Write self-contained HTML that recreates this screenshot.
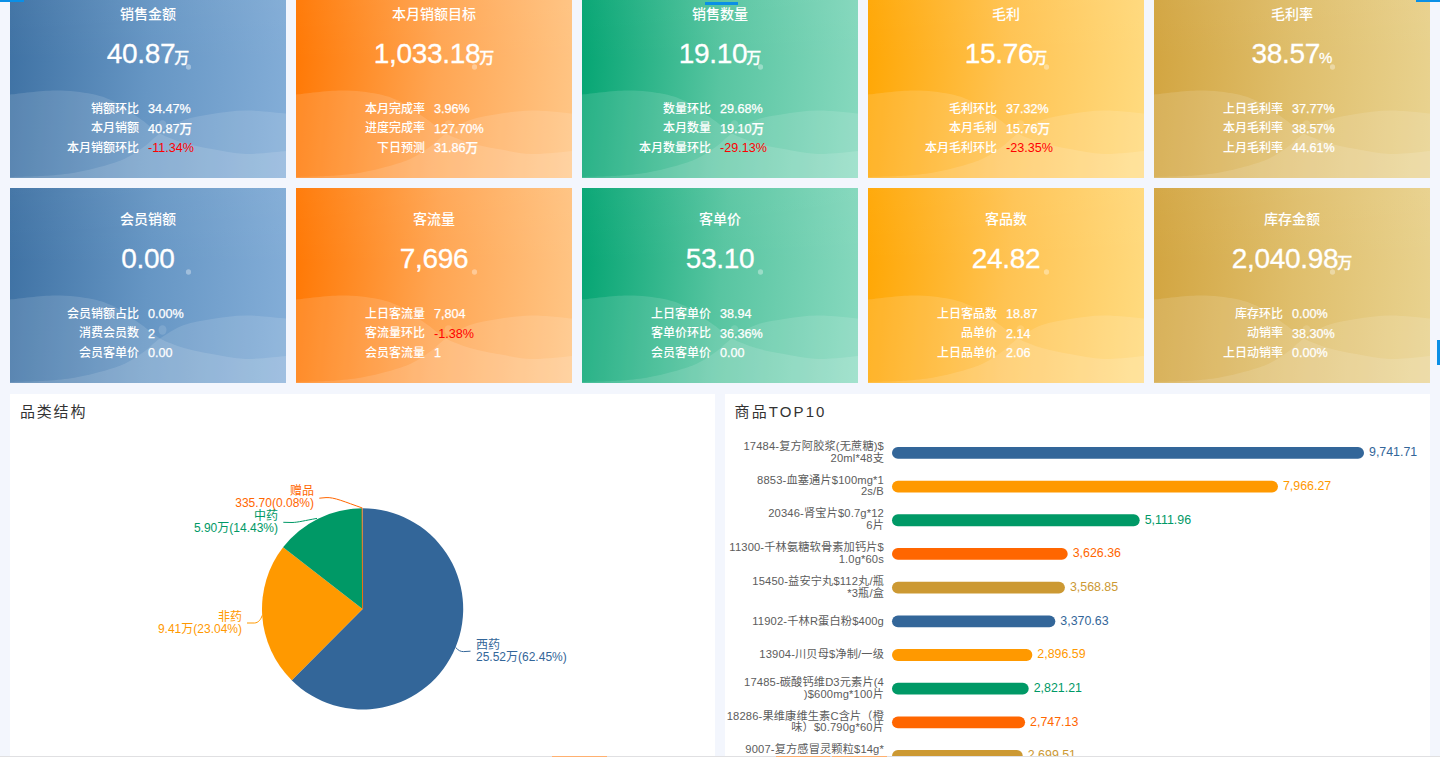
<!DOCTYPE html><html><head><meta charset="utf-8"><title>dashboard</title><style>

*{margin:0;padding:0;box-sizing:border-box}
html,body{width:1440px;height:757px;overflow:hidden;background:#f3f6fd;font-family:"Liberation Sans","Noto Sans CJK SC",sans-serif}
.card{position:absolute;width:276px;height:195px;overflow:hidden;color:#fff}
.g0{background:linear-gradient(180deg,rgba(255,255,255,.045) 0%,rgba(255,255,255,0) 40%),linear-gradient(95deg,#3e71a3 0%,#6696c4 50%,#84aed8 100%)}
.g1{background:linear-gradient(180deg,rgba(255,255,255,.045) 0%,rgba(255,255,255,0) 40%),linear-gradient(95deg,#ff7702 0%,#ffa552 50%,#ffc686 100%)}
.g2{background:linear-gradient(180deg,rgba(255,255,255,.045) 0%,rgba(255,255,255,0) 40%),linear-gradient(95deg,#02a471 0%,#58c5a1 50%,#88d9bf 100%)}
.g3{background:linear-gradient(180deg,rgba(255,255,255,.045) 0%,rgba(255,255,255,0) 40%),linear-gradient(95deg,#ffa602 0%,#ffc352 50%,#ffdb80 100%)}
.g4{background:linear-gradient(180deg,rgba(255,255,255,.045) 0%,rgba(255,255,255,0) 40%),linear-gradient(95deg,#d2a43f 0%,#dfbe6b 50%,#e9d390 100%)}
.wave{position:absolute;left:0;top:0}
.t{position:absolute;left:0;right:0;top:21px;text-align:center;font-size:14px;line-height:20px;font-weight:500}
.n{position:absolute;left:0;right:0;top:53px;text-align:center;font-size:28px;line-height:36px;white-space:nowrap;letter-spacing:-0.3px;-webkit-text-stroke:0.3px #fff}
.u{font-size:15px;margin-left:-1px;font-weight:500;letter-spacing:0}
.rs{position:absolute;left:0;right:0;top:115.6px}
.r{height:19.7px;line-height:20px;font-size:12px;white-space:nowrap;font-weight:500}
.l{display:inline-block;width:129px;text-align:right}
.v{display:inline-block;margin-left:9px;font-size:12.6px;-webkit-text-stroke:0.25px currentColor;vertical-align:top;position:relative;top:0.5px}
.neg{color:#ff0000;-webkit-text-stroke:0}
.panel{position:absolute;top:394px;width:705px;height:400px;background:#fff;overflow:hidden}
.pt{position:absolute;left:10px;top:8px;font-size:15px;letter-spacing:1.8px;color:#333;line-height:20px;white-space:nowrap}
.panel svg{position:absolute;left:0;top:0}

</style></head><body>
<div class="card g0" style="left:10px;top:-17px"><svg class="wave" width="276" height="195" viewBox="0 0 276 195"><path d="M0,111.5 C7.5,110.8 31.3,107.6 45,107.5 C58.7,107.4 72.0,109.1 82,111 C92.0,112.9 98.7,116.0 105,119 C111.3,122.0 115.2,125.8 120,129 C124.8,132.2 129.0,134.9 134,138.5 C139.0,142.1 143.3,146.9 150,150.5 C156.7,154.1 165.3,157.4 174,160 C182.7,162.6 191.7,164.2 202,166 C212.3,167.8 223.7,170.7 236,171 C248.3,171.3 269.3,168.5 276,168 L276,195 L0,195 Z" fill="#fff" fill-opacity="0.13"/><path d="M0,194 C6.7,193.8 28.7,193.3 40,192.5 C51.3,191.7 58.5,190.8 68,189 C77.5,187.2 88.8,184.4 97,182 C105.2,179.6 110.7,177.7 117,174.5 C123.3,171.3 129.5,167.0 135,163 C140.5,159.0 143.5,154.8 150,150.5 C156.5,146.2 165.3,140.2 174,137 C182.7,133.8 191.7,132.6 202,131 C212.3,129.4 223.7,127.6 236,127.5 C248.3,127.4 269.3,130.0 276,130.5 L276,195 L0,195 Z" fill="#fff" fill-opacity="0.12"/><ellipse cx="178.5" cy="84" rx="2.6" ry="2.8" fill="#fff" fill-opacity="0.35"/><ellipse cx="152.5" cy="142" rx="4" ry="4.8" fill="#fff" fill-opacity="0.13"/></svg>
<div class="t">销售金额</div>
<div class="n"><span class="nv">40.87</span><span class="u">万</span></div>
<div class="rs"><div class="r"><span class="l">销额环比</span><span class="v">34.47%</span></div><div class="r"><span class="l">本月销额</span><span class="v">40.87万</span></div><div class="r"><span class="l">本月销额环比</span><span class="v neg">-11.34%</span></div></div>
</div>
<div class="card g1" style="left:296px;top:-17px"><svg class="wave" width="276" height="195" viewBox="0 0 276 195"><path d="M0,111.5 C7.5,110.8 31.3,107.6 45,107.5 C58.7,107.4 72.0,109.1 82,111 C92.0,112.9 98.7,116.0 105,119 C111.3,122.0 115.2,125.8 120,129 C124.8,132.2 129.0,134.9 134,138.5 C139.0,142.1 143.3,146.9 150,150.5 C156.7,154.1 165.3,157.4 174,160 C182.7,162.6 191.7,164.2 202,166 C212.3,167.8 223.7,170.7 236,171 C248.3,171.3 269.3,168.5 276,168 L276,195 L0,195 Z" fill="#fff" fill-opacity="0.13"/><path d="M0,194 C6.7,193.8 28.7,193.3 40,192.5 C51.3,191.7 58.5,190.8 68,189 C77.5,187.2 88.8,184.4 97,182 C105.2,179.6 110.7,177.7 117,174.5 C123.3,171.3 129.5,167.0 135,163 C140.5,159.0 143.5,154.8 150,150.5 C156.5,146.2 165.3,140.2 174,137 C182.7,133.8 191.7,132.6 202,131 C212.3,129.4 223.7,127.6 236,127.5 C248.3,127.4 269.3,130.0 276,130.5 L276,195 L0,195 Z" fill="#fff" fill-opacity="0.12"/><ellipse cx="178.5" cy="84" rx="2.6" ry="2.8" fill="#fff" fill-opacity="0.35"/><ellipse cx="152.5" cy="142" rx="4" ry="4.8" fill="#fff" fill-opacity="0.13"/></svg>
<div class="t">本月销额目标</div>
<div class="n"><span class="nv">1,033.18</span><span class="u">万</span></div>
<div class="rs"><div class="r"><span class="l">本月完成率</span><span class="v">3.96%</span></div><div class="r"><span class="l">进度完成率</span><span class="v">127.70%</span></div><div class="r"><span class="l">下日预测</span><span class="v">31.86万</span></div></div>
</div>
<div class="card g2" style="left:582px;top:-17px"><svg class="wave" width="276" height="195" viewBox="0 0 276 195"><path d="M0,111.5 C7.5,110.8 31.3,107.6 45,107.5 C58.7,107.4 72.0,109.1 82,111 C92.0,112.9 98.7,116.0 105,119 C111.3,122.0 115.2,125.8 120,129 C124.8,132.2 129.0,134.9 134,138.5 C139.0,142.1 143.3,146.9 150,150.5 C156.7,154.1 165.3,157.4 174,160 C182.7,162.6 191.7,164.2 202,166 C212.3,167.8 223.7,170.7 236,171 C248.3,171.3 269.3,168.5 276,168 L276,195 L0,195 Z" fill="#fff" fill-opacity="0.13"/><path d="M0,194 C6.7,193.8 28.7,193.3 40,192.5 C51.3,191.7 58.5,190.8 68,189 C77.5,187.2 88.8,184.4 97,182 C105.2,179.6 110.7,177.7 117,174.5 C123.3,171.3 129.5,167.0 135,163 C140.5,159.0 143.5,154.8 150,150.5 C156.5,146.2 165.3,140.2 174,137 C182.7,133.8 191.7,132.6 202,131 C212.3,129.4 223.7,127.6 236,127.5 C248.3,127.4 269.3,130.0 276,130.5 L276,195 L0,195 Z" fill="#fff" fill-opacity="0.12"/><ellipse cx="178.5" cy="84" rx="2.6" ry="2.8" fill="#fff" fill-opacity="0.35"/><ellipse cx="152.5" cy="142" rx="4" ry="4.8" fill="#fff" fill-opacity="0.13"/></svg>
<div class="t">销售数量</div>
<div class="n"><span class="nv">19.10</span><span class="u">万</span></div>
<div class="rs"><div class="r"><span class="l">数量环比</span><span class="v">29.68%</span></div><div class="r"><span class="l">本月数量</span><span class="v">19.10万</span></div><div class="r"><span class="l">本月数量环比</span><span class="v neg">-29.13%</span></div></div>
</div>
<div class="card g3" style="left:868px;top:-17px"><svg class="wave" width="276" height="195" viewBox="0 0 276 195"><path d="M0,111.5 C7.5,110.8 31.3,107.6 45,107.5 C58.7,107.4 72.0,109.1 82,111 C92.0,112.9 98.7,116.0 105,119 C111.3,122.0 115.2,125.8 120,129 C124.8,132.2 129.0,134.9 134,138.5 C139.0,142.1 143.3,146.9 150,150.5 C156.7,154.1 165.3,157.4 174,160 C182.7,162.6 191.7,164.2 202,166 C212.3,167.8 223.7,170.7 236,171 C248.3,171.3 269.3,168.5 276,168 L276,195 L0,195 Z" fill="#fff" fill-opacity="0.13"/><path d="M0,194 C6.7,193.8 28.7,193.3 40,192.5 C51.3,191.7 58.5,190.8 68,189 C77.5,187.2 88.8,184.4 97,182 C105.2,179.6 110.7,177.7 117,174.5 C123.3,171.3 129.5,167.0 135,163 C140.5,159.0 143.5,154.8 150,150.5 C156.5,146.2 165.3,140.2 174,137 C182.7,133.8 191.7,132.6 202,131 C212.3,129.4 223.7,127.6 236,127.5 C248.3,127.4 269.3,130.0 276,130.5 L276,195 L0,195 Z" fill="#fff" fill-opacity="0.12"/><ellipse cx="178.5" cy="84" rx="2.6" ry="2.8" fill="#fff" fill-opacity="0.35"/><ellipse cx="152.5" cy="142" rx="4" ry="4.8" fill="#fff" fill-opacity="0.13"/></svg>
<div class="t">毛利</div>
<div class="n"><span class="nv">15.76</span><span class="u">万</span></div>
<div class="rs"><div class="r"><span class="l">毛利环比</span><span class="v">37.32%</span></div><div class="r"><span class="l">本月毛利</span><span class="v">15.76万</span></div><div class="r"><span class="l">本月毛利环比</span><span class="v neg">-23.35%</span></div></div>
</div>
<div class="card g4" style="left:1154px;top:-17px"><svg class="wave" width="276" height="195" viewBox="0 0 276 195"><path d="M0,111.5 C7.5,110.8 31.3,107.6 45,107.5 C58.7,107.4 72.0,109.1 82,111 C92.0,112.9 98.7,116.0 105,119 C111.3,122.0 115.2,125.8 120,129 C124.8,132.2 129.0,134.9 134,138.5 C139.0,142.1 143.3,146.9 150,150.5 C156.7,154.1 165.3,157.4 174,160 C182.7,162.6 191.7,164.2 202,166 C212.3,167.8 223.7,170.7 236,171 C248.3,171.3 269.3,168.5 276,168 L276,195 L0,195 Z" fill="#fff" fill-opacity="0.13"/><path d="M0,194 C6.7,193.8 28.7,193.3 40,192.5 C51.3,191.7 58.5,190.8 68,189 C77.5,187.2 88.8,184.4 97,182 C105.2,179.6 110.7,177.7 117,174.5 C123.3,171.3 129.5,167.0 135,163 C140.5,159.0 143.5,154.8 150,150.5 C156.5,146.2 165.3,140.2 174,137 C182.7,133.8 191.7,132.6 202,131 C212.3,129.4 223.7,127.6 236,127.5 C248.3,127.4 269.3,130.0 276,130.5 L276,195 L0,195 Z" fill="#fff" fill-opacity="0.12"/><ellipse cx="178.5" cy="84" rx="2.6" ry="2.8" fill="#fff" fill-opacity="0.35"/><ellipse cx="152.5" cy="142" rx="4" ry="4.8" fill="#fff" fill-opacity="0.13"/></svg>
<div class="t">毛利率</div>
<div class="n"><span class="nv">38.57</span><span class="u">%</span></div>
<div class="rs"><div class="r"><span class="l">上日毛利率</span><span class="v">37.77%</span></div><div class="r"><span class="l">本月毛利率</span><span class="v">38.57%</span></div><div class="r"><span class="l">上月毛利率</span><span class="v">44.61%</span></div></div>
</div>
<div class="card g0" style="left:10px;top:188px"><svg class="wave" width="276" height="195" viewBox="0 0 276 195"><path d="M0,111.5 C7.5,110.8 31.3,107.6 45,107.5 C58.7,107.4 72.0,109.1 82,111 C92.0,112.9 98.7,116.0 105,119 C111.3,122.0 115.2,125.8 120,129 C124.8,132.2 129.0,134.9 134,138.5 C139.0,142.1 143.3,146.9 150,150.5 C156.7,154.1 165.3,157.4 174,160 C182.7,162.6 191.7,164.2 202,166 C212.3,167.8 223.7,170.7 236,171 C248.3,171.3 269.3,168.5 276,168 L276,195 L0,195 Z" fill="#fff" fill-opacity="0.13"/><path d="M0,194 C6.7,193.8 28.7,193.3 40,192.5 C51.3,191.7 58.5,190.8 68,189 C77.5,187.2 88.8,184.4 97,182 C105.2,179.6 110.7,177.7 117,174.5 C123.3,171.3 129.5,167.0 135,163 C140.5,159.0 143.5,154.8 150,150.5 C156.5,146.2 165.3,140.2 174,137 C182.7,133.8 191.7,132.6 202,131 C212.3,129.4 223.7,127.6 236,127.5 C248.3,127.4 269.3,130.0 276,130.5 L276,195 L0,195 Z" fill="#fff" fill-opacity="0.12"/><ellipse cx="178.5" cy="84" rx="2.6" ry="2.8" fill="#fff" fill-opacity="0.35"/><ellipse cx="152.5" cy="142" rx="4" ry="4.8" fill="#fff" fill-opacity="0.13"/></svg>
<div class="t">会员销额</div>
<div class="n"><span class="nv">0.00</span></div>
<div class="rs"><div class="r"><span class="l">会员销额占比</span><span class="v">0.00%</span></div><div class="r"><span class="l">消费会员数</span><span class="v">2</span></div><div class="r"><span class="l">会员客单价</span><span class="v">0.00</span></div></div>
</div>
<div class="card g1" style="left:296px;top:188px"><svg class="wave" width="276" height="195" viewBox="0 0 276 195"><path d="M0,111.5 C7.5,110.8 31.3,107.6 45,107.5 C58.7,107.4 72.0,109.1 82,111 C92.0,112.9 98.7,116.0 105,119 C111.3,122.0 115.2,125.8 120,129 C124.8,132.2 129.0,134.9 134,138.5 C139.0,142.1 143.3,146.9 150,150.5 C156.7,154.1 165.3,157.4 174,160 C182.7,162.6 191.7,164.2 202,166 C212.3,167.8 223.7,170.7 236,171 C248.3,171.3 269.3,168.5 276,168 L276,195 L0,195 Z" fill="#fff" fill-opacity="0.13"/><path d="M0,194 C6.7,193.8 28.7,193.3 40,192.5 C51.3,191.7 58.5,190.8 68,189 C77.5,187.2 88.8,184.4 97,182 C105.2,179.6 110.7,177.7 117,174.5 C123.3,171.3 129.5,167.0 135,163 C140.5,159.0 143.5,154.8 150,150.5 C156.5,146.2 165.3,140.2 174,137 C182.7,133.8 191.7,132.6 202,131 C212.3,129.4 223.7,127.6 236,127.5 C248.3,127.4 269.3,130.0 276,130.5 L276,195 L0,195 Z" fill="#fff" fill-opacity="0.12"/><ellipse cx="178.5" cy="84" rx="2.6" ry="2.8" fill="#fff" fill-opacity="0.35"/><ellipse cx="152.5" cy="142" rx="4" ry="4.8" fill="#fff" fill-opacity="0.13"/></svg>
<div class="t">客流量</div>
<div class="n"><span class="nv">7,696</span></div>
<div class="rs"><div class="r"><span class="l">上日客流量</span><span class="v">7,804</span></div><div class="r"><span class="l">客流量环比</span><span class="v neg">-1.38%</span></div><div class="r"><span class="l">会员客流量</span><span class="v">1</span></div></div>
</div>
<div class="card g2" style="left:582px;top:188px"><svg class="wave" width="276" height="195" viewBox="0 0 276 195"><path d="M0,111.5 C7.5,110.8 31.3,107.6 45,107.5 C58.7,107.4 72.0,109.1 82,111 C92.0,112.9 98.7,116.0 105,119 C111.3,122.0 115.2,125.8 120,129 C124.8,132.2 129.0,134.9 134,138.5 C139.0,142.1 143.3,146.9 150,150.5 C156.7,154.1 165.3,157.4 174,160 C182.7,162.6 191.7,164.2 202,166 C212.3,167.8 223.7,170.7 236,171 C248.3,171.3 269.3,168.5 276,168 L276,195 L0,195 Z" fill="#fff" fill-opacity="0.13"/><path d="M0,194 C6.7,193.8 28.7,193.3 40,192.5 C51.3,191.7 58.5,190.8 68,189 C77.5,187.2 88.8,184.4 97,182 C105.2,179.6 110.7,177.7 117,174.5 C123.3,171.3 129.5,167.0 135,163 C140.5,159.0 143.5,154.8 150,150.5 C156.5,146.2 165.3,140.2 174,137 C182.7,133.8 191.7,132.6 202,131 C212.3,129.4 223.7,127.6 236,127.5 C248.3,127.4 269.3,130.0 276,130.5 L276,195 L0,195 Z" fill="#fff" fill-opacity="0.12"/><ellipse cx="178.5" cy="84" rx="2.6" ry="2.8" fill="#fff" fill-opacity="0.35"/><ellipse cx="152.5" cy="142" rx="4" ry="4.8" fill="#fff" fill-opacity="0.13"/></svg>
<div class="t">客单价</div>
<div class="n"><span class="nv">53.10</span></div>
<div class="rs"><div class="r"><span class="l">上日客单价</span><span class="v">38.94</span></div><div class="r"><span class="l">客单价环比</span><span class="v">36.36%</span></div><div class="r"><span class="l">会员客单价</span><span class="v">0.00</span></div></div>
</div>
<div class="card g3" style="left:868px;top:188px"><svg class="wave" width="276" height="195" viewBox="0 0 276 195"><path d="M0,111.5 C7.5,110.8 31.3,107.6 45,107.5 C58.7,107.4 72.0,109.1 82,111 C92.0,112.9 98.7,116.0 105,119 C111.3,122.0 115.2,125.8 120,129 C124.8,132.2 129.0,134.9 134,138.5 C139.0,142.1 143.3,146.9 150,150.5 C156.7,154.1 165.3,157.4 174,160 C182.7,162.6 191.7,164.2 202,166 C212.3,167.8 223.7,170.7 236,171 C248.3,171.3 269.3,168.5 276,168 L276,195 L0,195 Z" fill="#fff" fill-opacity="0.13"/><path d="M0,194 C6.7,193.8 28.7,193.3 40,192.5 C51.3,191.7 58.5,190.8 68,189 C77.5,187.2 88.8,184.4 97,182 C105.2,179.6 110.7,177.7 117,174.5 C123.3,171.3 129.5,167.0 135,163 C140.5,159.0 143.5,154.8 150,150.5 C156.5,146.2 165.3,140.2 174,137 C182.7,133.8 191.7,132.6 202,131 C212.3,129.4 223.7,127.6 236,127.5 C248.3,127.4 269.3,130.0 276,130.5 L276,195 L0,195 Z" fill="#fff" fill-opacity="0.12"/><ellipse cx="178.5" cy="84" rx="2.6" ry="2.8" fill="#fff" fill-opacity="0.35"/><ellipse cx="152.5" cy="142" rx="4" ry="4.8" fill="#fff" fill-opacity="0.13"/></svg>
<div class="t">客品数</div>
<div class="n"><span class="nv">24.82</span></div>
<div class="rs"><div class="r"><span class="l">上日客品数</span><span class="v">18.87</span></div><div class="r"><span class="l">品单价</span><span class="v">2.14</span></div><div class="r"><span class="l">上日品单价</span><span class="v">2.06</span></div></div>
</div>
<div class="card g4" style="left:1154px;top:188px"><svg class="wave" width="276" height="195" viewBox="0 0 276 195"><path d="M0,111.5 C7.5,110.8 31.3,107.6 45,107.5 C58.7,107.4 72.0,109.1 82,111 C92.0,112.9 98.7,116.0 105,119 C111.3,122.0 115.2,125.8 120,129 C124.8,132.2 129.0,134.9 134,138.5 C139.0,142.1 143.3,146.9 150,150.5 C156.7,154.1 165.3,157.4 174,160 C182.7,162.6 191.7,164.2 202,166 C212.3,167.8 223.7,170.7 236,171 C248.3,171.3 269.3,168.5 276,168 L276,195 L0,195 Z" fill="#fff" fill-opacity="0.13"/><path d="M0,194 C6.7,193.8 28.7,193.3 40,192.5 C51.3,191.7 58.5,190.8 68,189 C77.5,187.2 88.8,184.4 97,182 C105.2,179.6 110.7,177.7 117,174.5 C123.3,171.3 129.5,167.0 135,163 C140.5,159.0 143.5,154.8 150,150.5 C156.5,146.2 165.3,140.2 174,137 C182.7,133.8 191.7,132.6 202,131 C212.3,129.4 223.7,127.6 236,127.5 C248.3,127.4 269.3,130.0 276,130.5 L276,195 L0,195 Z" fill="#fff" fill-opacity="0.12"/><ellipse cx="178.5" cy="84" rx="2.6" ry="2.8" fill="#fff" fill-opacity="0.35"/><ellipse cx="152.5" cy="142" rx="4" ry="4.8" fill="#fff" fill-opacity="0.13"/></svg>
<div class="t">库存金额</div>
<div class="n"><span class="nv">2,040.98</span><span class="u">万</span></div>
<div class="rs"><div class="r"><span class="l">库存环比</span><span class="v">0.00%</span></div><div class="r"><span class="l">动销率</span><span class="v">38.30%</span></div><div class="r"><span class="l">上日动销率</span><span class="v">0.00%</span></div></div>
</div>
<div class="panel" style="left:10px"><svg width="705" height="363" viewBox="0 0 705 363" font-family="Liberation Sans, Noto Sans CJK SC, sans-serif"><path d="M352.6,214.89999999999998 L352.60,114.30 A100.6,100.6 0 1 1 281.69,286.26 Z" fill="#336699"/><path d="M352.6,214.89999999999998 L281.69,286.26 A100.6,100.6 0 0 1 273.07,153.29 Z" fill="#ff9900"/><path d="M352.6,214.89999999999998 L273.07,153.29 A100.6,100.6 0 0 1 352.09,114.30 Z" fill="#009966"/><line x1="352.6" y1="214.89999999999998" x2="352.09" y2="114.30" stroke="#ff6600" stroke-width="0.9"/><path d="M445.6,253.4 C448.5,256.6 450.5,257.6 453.5,257.6 L460.5,257.2" fill="none" stroke="#336699" stroke-width="1"/><path d="M252.2,221.4 C250.8,225.5 248.5,228.8 244.5,229.0 L237.0,229.0" fill="none" stroke="#ff9900" stroke-width="1"/><path d="M307.0,124.4 C295.0,126.5 288.0,128.4 282.0,128.5 L273.3,128.3" fill="none" stroke="#009966" stroke-width="1"/><path d="M352.4,114.0 C335.0,108.0 324.0,103.0 316.0,103.6 L309.3,104.2" fill="none" stroke="#ff6600" stroke-width="1"/><text x="466" y="255.0" text-anchor="start" fill="#336699" font-size="12">西药</text><text x="466" y="267.3" text-anchor="start" fill="#336699" font-size="12">25.52万(62.45%)</text><text x="232" y="226.5" text-anchor="end" fill="#ff9900" font-size="12">非药</text><text x="232" y="238.8" text-anchor="end" fill="#ff9900" font-size="12">9.41万(23.04%)</text><text x="268" y="125.5" text-anchor="end" fill="#009966" font-size="12">中药</text><text x="268" y="137.8" text-anchor="end" fill="#009966" font-size="12">5.90万(14.43%)</text><text x="304" y="100.8" text-anchor="end" fill="#ff6600" font-size="12">赠品</text><text x="304" y="113.1" text-anchor="end" fill="#ff6600" font-size="12">335.70(0.08%)</text></svg><div class="pt">品类结构</div></div>
<div class="panel" style="left:725px"><svg width="705" height="363" viewBox="0 0 705 363" font-family="Liberation Sans, Noto Sans CJK SC, sans-serif"><rect x="167" y="53.00" width="471.99" height="11.8" rx="5.9" fill="#336699"/><text x="643.99" y="62.30" fill="#336699" font-size="12.4">9,741.71</text><text x="159" y="56.10" text-anchor="end" fill="#5c5c5c" font-size="11.2" letter-spacing="0.15">17484-复方阿胶浆(无蔗糖)$</text><text x="159" y="67.80" text-anchor="end" fill="#5c5c5c" font-size="11.2" letter-spacing="0.15">20ml*48支</text><rect x="167" y="86.68" width="385.97" height="11.8" rx="5.9" fill="#ff9900"/><text x="557.97" y="95.98" fill="#ff9900" font-size="12.4">7,966.27</text><text x="159" y="89.78" text-anchor="end" fill="#5c5c5c" font-size="11.2" letter-spacing="0.15">8853-血塞通片$100mg*1</text><text x="159" y="101.48" text-anchor="end" fill="#5c5c5c" font-size="11.2" letter-spacing="0.15">2s/B</text><rect x="167" y="120.36" width="247.67" height="11.8" rx="5.9" fill="#009966"/><text x="419.67" y="129.66" fill="#009966" font-size="12.4">5,111.96</text><text x="159" y="123.46" text-anchor="end" fill="#5c5c5c" font-size="11.2" letter-spacing="0.15">20346-肾宝片$0.7g*12</text><text x="159" y="135.16" text-anchor="end" fill="#5c5c5c" font-size="11.2" letter-spacing="0.15">6片</text><rect x="167" y="154.04" width="175.70" height="11.8" rx="5.9" fill="#ff6600"/><text x="347.70" y="163.34" fill="#ff6600" font-size="12.4">3,626.36</text><text x="159" y="157.14" text-anchor="end" fill="#5c5c5c" font-size="11.2" letter-spacing="0.15">11300-千林氨糖软骨素加钙片$</text><text x="159" y="168.84" text-anchor="end" fill="#5c5c5c" font-size="11.2" letter-spacing="0.15">1.0g*60s</text><rect x="167" y="187.72" width="172.91" height="11.8" rx="5.9" fill="#cc9933"/><text x="344.91" y="197.02" fill="#cc9933" font-size="12.4">3,568.85</text><text x="159" y="190.82" text-anchor="end" fill="#5c5c5c" font-size="11.2" letter-spacing="0.15">15450-益安宁丸$112丸/瓶</text><text x="159" y="202.52" text-anchor="end" fill="#5c5c5c" font-size="11.2" letter-spacing="0.15">*3瓶/盒</text><rect x="167" y="221.40" width="163.31" height="11.8" rx="5.9" fill="#336699"/><text x="335.31" y="230.70" fill="#336699" font-size="12.4">3,370.63</text><text x="159" y="230.50" text-anchor="end" fill="#5c5c5c" font-size="11.2" letter-spacing="0.15">11902-千林R蛋白粉$400g</text><rect x="167" y="255.08" width="140.34" height="11.8" rx="5.9" fill="#ff9900"/><text x="312.34" y="264.38" fill="#ff9900" font-size="12.4">2,896.59</text><text x="159" y="264.18" text-anchor="end" fill="#5c5c5c" font-size="11.2" letter-spacing="0.15">13904-川贝母$净制/一级</text><rect x="167" y="288.76" width="136.69" height="11.8" rx="5.9" fill="#009966"/><text x="308.69" y="298.06" fill="#009966" font-size="12.4">2,821.21</text><text x="159" y="291.86" text-anchor="end" fill="#5c5c5c" font-size="11.2" letter-spacing="0.15">17485-碳酸钙维D3元素片(4</text><text x="159" y="303.56" text-anchor="end" fill="#5c5c5c" font-size="11.2" letter-spacing="0.15">)$600mg*100片</text><rect x="167" y="322.44" width="133.10" height="11.8" rx="5.9" fill="#ff6600"/><text x="305.10" y="331.74" fill="#ff6600" font-size="12.4">2,747.13</text><text x="159" y="325.54" text-anchor="end" fill="#5c5c5c" font-size="11.2" letter-spacing="0.15">18286-果维康维生素C含片（橙</text><text x="159" y="337.24" text-anchor="end" fill="#5c5c5c" font-size="11.2" letter-spacing="0.15">味）$0.790g*60片</text><rect x="167" y="356.12" width="130.79" height="11.8" rx="5.9" fill="#cc9933"/><text x="302.79" y="365.42" fill="#cc9933" font-size="12.4">2,699.51</text><text x="159" y="359.22" text-anchor="end" fill="#5c5c5c" font-size="11.2" letter-spacing="0.15">9007-复方感冒灵颗粒$14g*</text></svg><div class="pt" style="left:9.6px;letter-spacing:2.1px">商品TOP10</div></div>
<div style="position:absolute;left:0;top:0;width:24px;height:2px;background:#0a8fe6"></div>
<div style="position:absolute;left:1416px;top:0;width:24px;height:2px;background:#0a8fe6"></div>
<div style="position:absolute;left:705px;top:2px;width:33px;height:3px;background:#0a8fe6"></div>
<div style="position:absolute;left:1437px;top:340px;width:3px;height:25px;background:#0a8fe6"></div>
<div style="position:absolute;left:0;top:756px;width:1440px;height:1px;background:#e0e0e2"></div>
<div style="position:absolute;left:552px;top:756px;width:55px;height:1px;background:#ffb070"></div>
<div style="position:absolute;left:776px;top:756px;width:54px;height:1px;background:#ffb070"></div>
<div style="position:absolute;left:832px;top:756px;width:55px;height:1px;background:#ffb070"></div>
</body></html>
